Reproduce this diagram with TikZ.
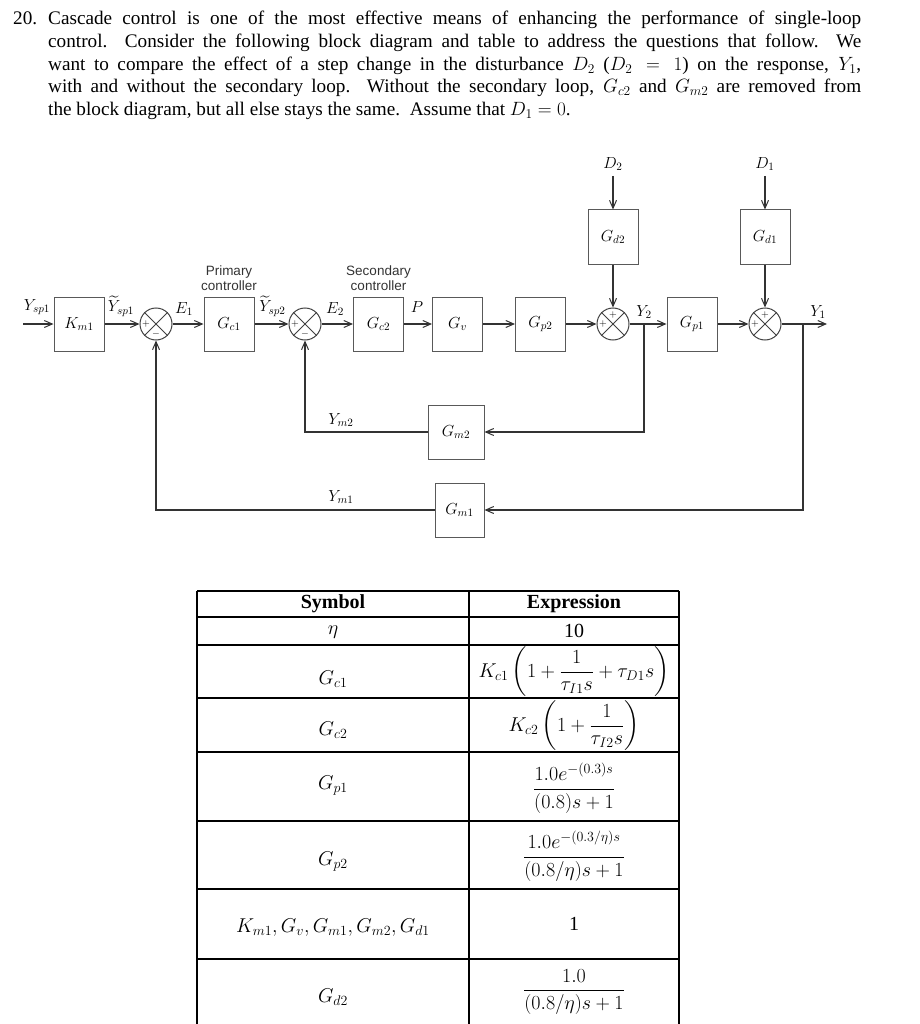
\RequirePackage{fix-cm}
\documentclass[tikz,border=0pt]{standalone}
\usepackage{amsmath}
\usepackage{fontspec}
\setmainfont{Liberation Serif}
\setsansfont{Liberation Sans}
\usetikzlibrary{arrows.meta,calc}
\begin{document}
\begin{tikzpicture}[x=1pt,y=-1pt,
  blk/.style={draw=black!65, line width=1pt, minimum width=50pt, minimum height=54pt, inner sep=0pt, font=\fontsize{16}{19}\selectfont},
  sumj/.style={circle, draw=black!75, line width=1pt, minimum size=32pt, inner sep=0pt},
  sig/.style={-{Straight Barb[length=8pt,width=7pt,line width=1pt]}, line width=1.4pt, draw=black!80},
  lbl/.style={font=\fontsize{16}{19}\selectfont, inner sep=0pt},
  sgn/.style={font=\fontsize{10}{10}\selectfont, inner sep=0pt},
  ctl/.style={font=\sffamily\fontsize{13.5}{15}\selectfont, align=center, text=black!80, inner sep=0pt},
  para/.style={font=\fontsize{19.2}{23}\selectfont, anchor=base west, inner sep=0pt},
  tline/.style={line width=1.4pt, draw=black},
  tcell/.style={font=\fontsize{20}{24}\selectfont, inner sep=0pt},
]
\useasboundingbox (0,0) rectangle (919,1024);

% ---------- question text ----------
\node[para] (qn) at (13,25) {20.};
\node[para] (q1) at (48,25) {\makebox[813pt][s]{Cascade control is one of the most effective means of enhancing the performance of single-loop}};
\node[para] (q2) at (48,48) {\makebox[813pt][s]{control.\ \ Consider the following block diagram and table to address the questions that follow.\ \ We}};
\node[para] (q3) at (48,70.5) {\makebox[813pt][s]{want to compare the effect of a step change in the disturbance $D_2$ ($D_2=1$) on the response, $Y_1$,}};
\node[para] (q4) at (48,93) {\makebox[813pt][s]{with and without the secondary loop.\ \ Without the secondary loop, $G_{c2}$ and $G_{m2}$ are removed from}};
\node[para] (q5) at (48,116) {the block diagram, but all else stays the same.\ \ Assume that $D_1=0$.};

% ---------- block diagram ----------
\node[blk] (km1) at (79,324) {$K_{m1}$};
\node[sumj] (s1) at (156,324) {};
\node[blk] (gc1) at (229,324) {$G_{c1}$};
\node[sumj] (s2) at (305,324) {};
\node[blk] (gc2) at (378.5,324) {$G_{c2}$};
\node[blk] (gv) at (457.5,324) {$G_v$};
\node[blk] (gp2) at (540.5,324) {$G_{p2}$};
\node[sumj] (s3) at (613,324) {};
\node[blk] (gp1) at (692,324) {$G_{p1}$};
\node[sumj] (s4) at (765,324) {};
\node[blk] (gd2) at (613,237) {$G_{d2}$};
\node[blk] (gd1) at (765,237) {$G_{d1}$};
\node[blk, minimum width=56pt] (gm2) at (456,432) {$G_{m2}$};
\node[blk, minimum width=49pt] (gm1) at (459.5,510) {$G_{m1}$};

% summing junction crosses and signs
\foreach \s in {s1,s2,s3,s4}{
  \draw[black!75, line width=1pt] (\s.45) -- (\s.225) (\s.135) -- (\s.315);
}
\node[sgn] (p1) at ($(s1)+(-10,0)$) {$+$};
\node[sgn] (m1) at ($(s1)+(0,9.5)$) {$-$};
\node[sgn] (p2) at ($(s2)+(-10,0)$) {$+$};
\node[sgn] (m2) at ($(s2)+(0,9.5)$) {$-$};
\node[sgn] (p3a) at ($(s3)+(-10,0)$) {$+$};
\node[sgn] (p3b) at ($(s3)+(0,-9.5)$) {$+$};
\node[sgn] (p4a) at ($(s4)+(-10,0)$) {$+$};
\node[sgn] (p4b) at ($(s4)+(0,-9.5)$) {$+$};

% controller captions
\node[ctl] (cap1) at (229,278) {Primary\\controller};
\node[ctl] (cap2) at (378.5,278) {Secondary\\controller};

% coordinates
\coordinate (in) at (23,324);
\coordinate (out) at (827,324);
\coordinate (b2) at (644,324);
\coordinate (b1) at (803,324);
\coordinate (d2) at (613,176);
\coordinate (d1) at (765,176);

% forward path
\draw[sig] (in) -- (km1);
\draw[sig] (km1) -- (s1);
\draw[sig] (s1) -- (gc1);
\draw[sig] (gc1) -- (s2);
\draw[sig] (s2) -- (gc2);
\draw[sig] (gc2) -- (gv);
\draw[sig] (gv) -- (gp2);
\draw[sig] (gp2) -- (s3);
\draw[sig] (s3) -- (gp1);
\draw[sig] (gp1) -- (s4);
\draw[sig] (s4) -- (out);
% disturbances
\draw[sig] (d2) -- (gd2);
\draw[sig] (gd2) -- (s3);
\draw[sig] (d1) -- (gd1);
\draw[sig] (gd1) -- (s4);
% feedback
\draw[sig] (b2) |- (gm2.east);
\draw[sig] (gm2.west) -| (s2.south);
\draw[sig] (b1) |- (gm1.east);
\draw[sig] (gm1.west) -| (s1.south);

% signal labels
\node[lbl] (lysp1) at (37,307) {$Y_{sp1}$};
\node[lbl] (lyt1) at (121,306) {$\widetilde{Y}_{sp1}$};
\node[lbl] (le1) at (184,309) {$E_1$};
\node[lbl] (lyt2) at (272.5,306) {$\widetilde{Y}_{sp2}$};
\node[lbl] (le2) at (335,309) {$E_2$};
\node[lbl] (lp) at (417,307) {$P$};
\node[lbl] (ly2) at (644,312) {$Y_2$};
\node[lbl] (ly1) at (818,312) {$Y_1$};
\node[lbl] (ld2) at (613,164) {$D_2$};
\node[lbl] (ld1) at (765,164) {$D_1$};
\node[lbl] (lym2) at (341,420) {$Y_{m2}$};
\node[lbl] (lym1) at (341,497) {$Y_{m1}$};

% ---------- table ----------
\draw[tline] (197,591) -- (679,591);
\foreach \yy in {617,645,698,752,821,889,959}{
  \draw[tline] (197,\yy) -- (679,\yy);
}
\draw[tline] (197,591) -- (197,1024);
\draw[tline] (469,591) -- (469,1024);
\draw[tline] (679,591) -- (679,1024);

\node[tcell] (h1) at (333,604) {\textbf{Symbol}};
\node[tcell] (h2) at (574,604) {\textbf{Expression}};
\node[tcell] (r1a) at (333,632) {$\eta$};
\node[tcell] (r1b) at (574,631) {10};
\node[tcell] (r2a) at (333,679) {$G_{c1}$};
\node[tcell] (r2b) at (574,672) {$K_{c1}\left(1+\dfrac{1}{\tau_{I1}s}+\tau_{D1}s\right)$};
\node[tcell] (r3a) at (333,730) {$G_{c2}$};
\node[tcell] (r3b) at (574,726) {$K_{c2}\left(1+\dfrac{1}{\tau_{I2}s}\right)$};
\node[tcell] (r4a) at (333,786) {$G_{p1}$};
\node[tcell] (r4b) at (574,788) {$\dfrac{1.0e^{-(0.3)s}}{(0.8)s+1}$};
\node[tcell] (r5a) at (333,862) {$G_{p2}$};
\node[tcell] (r5b) at (574,856) {$\dfrac{1.0e^{-(0.3/\eta)s}}{(0.8/\eta)s+1}$};
\node[tcell] (r6a) at (333,928) {$K_{m1},G_v,G_{m1},G_{m2},G_{d1}$};
\node[tcell] (r6b) at (574,924) {1};
\node[tcell] (r7a) at (333,997) {$G_{d2}$};
\node[tcell] (r7b) at (574,992) {$\dfrac{1.0}{(0.8/\eta)s+1}$};
\end{tikzpicture}
\end{document}
